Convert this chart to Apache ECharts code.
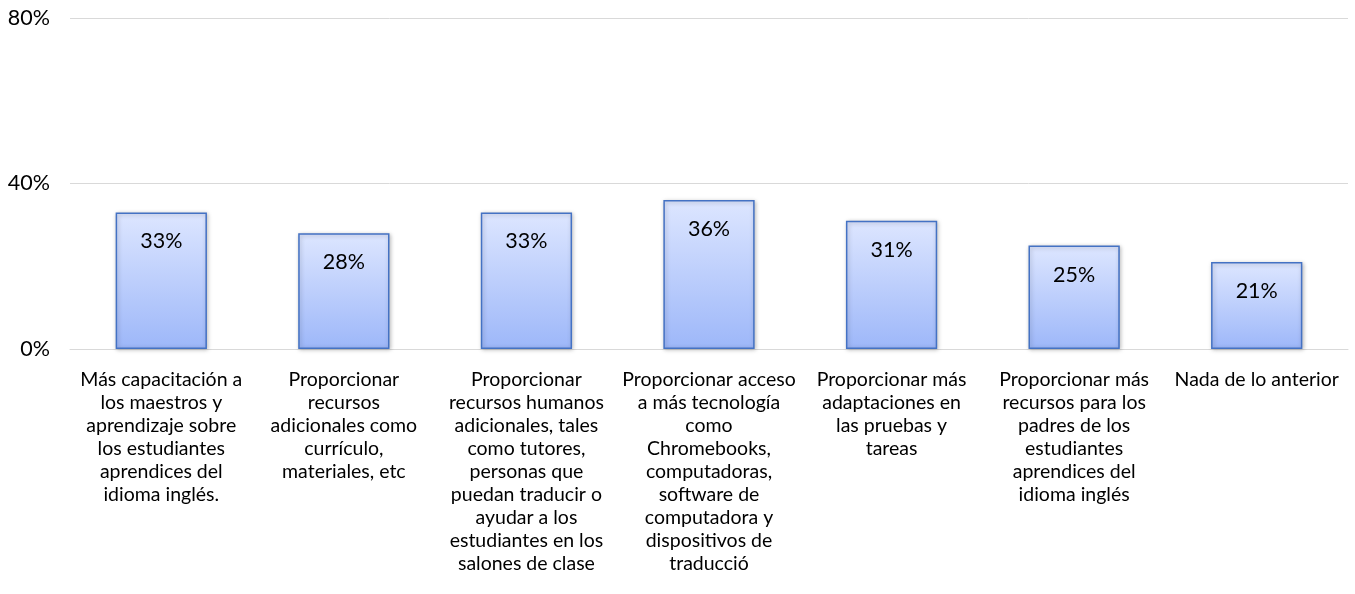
<!DOCTYPE html>
<html><head><meta charset="utf-8">
<script src="https://cdn.jsdelivr.net/npm/echarts@6/dist/echarts.min.js"></script>
<style>html,body{margin:0;padding:0;background:#fff}#c{width:1355px;height:594px}</style>
</head><body><div id="c"></div>
<script>
const categories = [
  "Más capacitación a\nlos maestros y\naprendizaje sobre\nlos estudiantes\naprendices del\nidioma inglés.",
  "Proporcionar\nrecursos\nadicionales como\ncurrículo,\nmateriales, etc",
  "Proporcionar\nrecursos humanos\nadicionales, tales\ncomo tutores,\npersonas que\npuedan traducir o\nayudar a los\nestudiantes en los\nsalones de clase",
  "Proporcionar acceso\na más tecnología\ncomo\nChromebooks,\ncomputadoras,\nsoftware de\ncomputadora y\ndispositivos de\ntraducció",
  "Proporcionar más\nadaptaciones en\nlas pruebas y\ntareas",
  "Proporcionar más\nrecursos para los\npadres de los\nestudiantes\naprendices del\nidioma inglés",
  "Nada de lo anterior"
];
const values = [33, 28, 33, 36, 31, 25, 21];
const yTicks = [0, 40, 80];

const chart = echarts.init(document.getElementById('c'));
const font = 'Lato, "Open Sans", sans-serif';
chart.setOption({
  animation: false,
  grid: {left: 70, right: 7, top: 18, bottom: 245},
  xAxis: {
    type: 'category', data: categories,
    axisLine: {lineStyle: {color: '#d9d9d9', width: 1}},
    axisTick: {show: false},
    axisLabel: {interval: 0, color: '#000', fontSize: 19.5, lineHeight: 23, margin: 19, fontFamily: font, align: 'center'}
  },
  yAxis: {
    type: 'value', min: yTicks[0], max: yTicks[yTicks.length-1], interval: 40,
    axisLine: {show: false}, axisTick: {show: false},
    splitLine: {lineStyle: {color: '#d9d9d9', width: 1}},
    axisLabel: {color: '#000', fontSize: 21.5, fontFamily: font, margin: 20, formatter: v => v + '%'}
  },
  series: [{
    type: 'bar', data: values, barWidth: '50%',
    itemStyle: {
      color: new echarts.graphic.LinearGradient(0, 0, 0, 1, [
        {offset: 0, color: '#dde6ff'}, {offset: 1, color: '#9db7f9'}
      ]),
      borderColor: '#4472c4', borderWidth: 1.5,
      shadowColor: 'rgba(0,0,0,0.25)', shadowBlur: 4, shadowOffsetX: 1, shadowOffsetY: 1
    },
    label: {show: true, position: 'insideTop', distance: 18, color: '#000', fontSize: 21.5, fontFamily: font, formatter: p => p.value + '%'}
  }]
});
</script></body></html>
